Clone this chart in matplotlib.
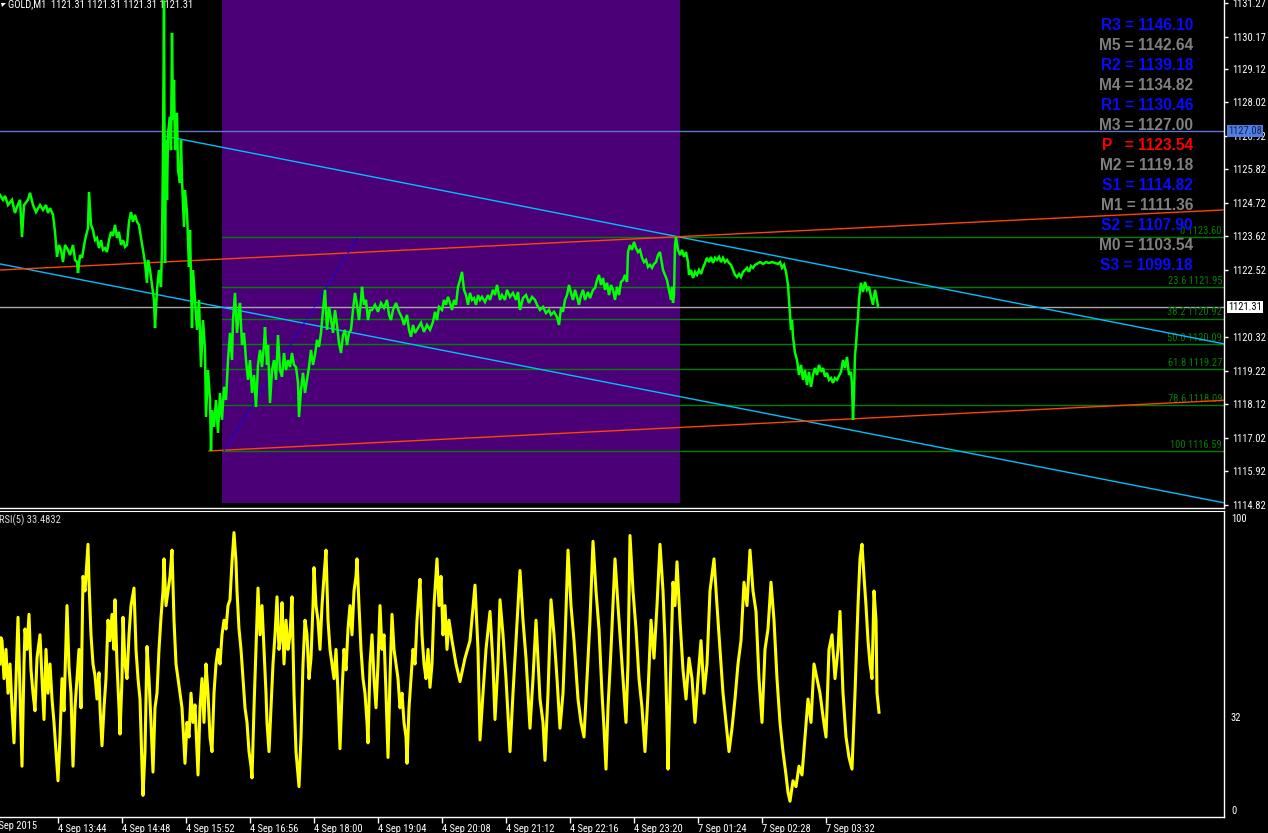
import matplotlib
matplotlib.use('Agg')
import matplotlib.pyplot as plt
import matplotlib.transforms as mtrans
from matplotlib.patches import Rectangle, Polygon
from matplotlib import font_manager

# ---------------- data ----------------
title = "GOLD,M1  1121.31 1121.31 1121.31 1121.31"
last_price = 1121.31
m3_line = 1127.08

price_bar = [0,3,5,8,12,15,17,20,22,24,28,30,33,36,40,43,46,48,50,53,55,57,59,61,63,65,68,70,73,75,77,78,80,82,85,88,89,91,93,95,97,99,101,103,105,107,109,111,113,115,117,119,121,123,125,127,129,131,133,135,137,139,141,143,145,147,148,150,152,154,155,157,159,161,162,163,164,165,166,167,168,170,171,172,173,174,175,177,178,180,181,182,184,185,187,189,190,192,193,195,197,199,201,203,205,206,208,210,211,212,214,216,218,220,222,224,226,228,230,232,233,235,237,239,240,242,244,246,248,250,252,254,256,258,260,262,264,265,267,268,270,272,274,276,278,280,282,284,286,288,290,292,294,296,298,299,301,303,305,307,309,311,313,315,317,319,321,323,325,327,329,331,333,335,337,339,341,343,345,347,349,351,353,355,357,359,361,362,364,366,368,370,372,375,378,381,384,387,389,391,393,396,399,402,404,407,409,411,413,415,418,421,424,427,430,433,435,437,439,442,444,446,448,450,452,454,456,458,460,462,464,466,468,470,472,474,476,478,480,482,485,488,490,493,495,497,500,502,505,507,510,513,516,518,520,523,526,529,532,535,537,540,543,546,549,551,554,557,559,561,563,565,567,569,571,573,575,577,579,581,583,585,588,590,593,595,597,599,601,603,605,607,609,611,613,615,617,619,621,623,625,627,628,630,632,634,636,638,640,642,644,646,648,650,652,654,656,658,660,661,663,665,667,669,671,672,673,674,675,676,678,680,682,684,686,688,689,691,693,695,697,699,701,703,705,707,709,711,713,715,717,719,721,723,725,727,729,731,733,735,737,739,741,743,745,747,749,751,753,755,757,760,763,766,769,772,775,778,780,782,784,786,788,789,790,791,792,793,794,795,797,799,801,803,805,807,809,811,813,815,817,819,821,823,825,827,829,831,833,835,837,839,841,843,845,847,849,851,852,853,854,855,856,857,858,859,860,861,863,865,867,869,871,873,875,877,878]
price_val = [1124.98,1124.82,1124.95,1124.65,1124.82,1124.39,1124.59,1124.82,1123.60,1124.65,1124.82,1125.05,1124.65,1124.42,1124.65,1124.49,1124.65,1124.39,1124.55,1124.33,1123.77,1122.95,1123.34,1123.18,1122.78,1123.34,1123.18,1123.01,1123.34,1122.85,1122.78,1122.42,1123.01,1122.92,1123.50,1123.90,1125.08,1124.00,1123.83,1123.50,1123.57,1123.24,1123.50,1123.18,1123.24,1123.11,1123.50,1123.77,1123.64,1124.00,1123.57,1123.77,1123.34,1123.50,1123.28,1123.34,1124.10,1124.42,1124.10,1124.33,1124.10,1124.00,1123.57,1123.18,1122.75,1122.10,1122.85,1122.52,1122.03,1121.54,1120.62,1121.87,1122.52,1121.97,1123.28,1126.45,1131.35,1122.75,1126.78,1124.82,1127.01,1127.54,1126.45,1130.29,1127.44,1128.75,1126.45,1127.67,1125.80,1125.37,1126.78,1125.47,1123.93,1125.14,1124.39,1122.62,1123.83,1120.62,1122.52,1121.54,1120.56,1121.54,1119.34,1120.88,1119.90,1117.70,1119.24,1118.26,1116.59,1117.93,1117.38,1118.26,1117.18,1118.49,1117.61,1118.69,1118.26,1119.57,1120.46,1119.57,1120.88,1121.77,1120.46,1121.21,1121.44,1120.06,1120.46,1119.57,1118.92,1119.57,1118.49,1119.08,1118.03,1119.41,1119.90,1119.34,1120.06,1120.65,1119.41,1120.06,1118.16,1119.24,1119.57,1118.92,1120.39,1119.24,1119.02,1119.80,1119.24,1119.57,1119.34,1119.80,1119.41,1119.34,1118.82,1117.70,1118.59,1119.15,1118.49,1118.92,1119.34,1119.90,1119.41,1119.74,1120.23,1120.00,1120.46,1121.21,1121.87,1120.56,1121.31,1120.88,1120.46,1121.21,1120.72,1120.13,1119.80,1120.39,1120.56,1120.06,1120.46,1120.56,1121.21,1121.77,1121.38,1120.88,1121.54,1121.97,1121.38,1121.54,1120.88,1121.21,1121.21,1121.38,1121.15,1121.44,1121.28,1121.54,1121.05,1120.88,1121.21,1121.44,1121.15,1120.95,1120.72,1121.05,1120.56,1120.33,1120.72,1120.46,1120.62,1120.79,1120.49,1120.72,1120.56,1120.82,1121.15,1120.88,1121.31,1121.21,1121.54,1121.38,1121.64,1121.44,1121.21,1121.54,1121.38,1121.97,1122.19,1122.46,1121.87,1121.70,1121.38,1121.77,1121.54,1121.60,1121.38,1121.70,1121.54,1121.64,1121.47,1121.70,1121.54,1121.87,1121.70,1122.03,1121.54,1121.70,1121.54,1121.87,1121.64,1121.77,1121.54,1121.80,1121.21,1121.60,1121.70,1121.44,1121.64,1121.54,1121.38,1121.21,1121.31,1121.11,1121.21,1121.05,1121.15,1120.98,1120.72,1121.28,1121.15,1121.54,1121.70,1122.03,1121.77,1121.54,1121.87,1121.64,1121.38,1121.70,1121.87,1121.54,1121.80,1121.60,1121.87,1121.93,1122.19,1122.36,1122.03,1122.26,1121.87,1122.10,1121.70,1122.03,1121.87,1121.54,1121.97,1121.70,1122.13,1122.19,1122.36,1122.13,1123.11,1123.34,1123.18,1123.44,1123.24,1123.11,1123.18,1122.92,1122.78,1122.85,1122.62,1122.69,1122.59,1122.72,1122.78,1123.01,1123.11,1122.92,1122.52,1122.36,1122.19,1121.87,1121.54,1121.97,1121.44,1121.70,1123.34,1123.60,1123.18,1123.01,1123.18,1122.95,1123.11,1122.78,1122.36,1122.52,1122.26,1122.46,1122.36,1122.52,1122.39,1122.59,1122.75,1122.92,1122.78,1122.95,1122.75,1122.92,1122.85,1122.95,1122.78,1122.92,1122.78,1122.85,1122.75,1122.69,1122.52,1122.36,1122.29,1122.39,1122.29,1122.46,1122.52,1122.59,1122.46,1122.65,1122.59,1122.69,1122.72,1122.78,1122.72,1122.78,1122.75,1122.78,1122.75,1122.72,1122.78,1122.59,1122.69,1122.46,1122.03,1121.54,1121.05,1120.56,1120.88,1120.33,1120.06,1119.80,1119.57,1119.08,1119.41,1118.92,1119.24,1118.75,1119.18,1118.69,1119.08,1119.31,1119.08,1119.41,1119.18,1119.31,1119.02,1119.15,1118.92,1118.98,1118.82,1118.98,1118.92,1119.05,1119.18,1119.57,1119.31,1119.67,1119.08,1119.18,1118.75,1117.61,1118.43,1119.74,1120.06,1120.56,1120.95,1121.54,1121.87,1122.10,1121.80,1122.13,1121.87,1121.97,1121.64,1121.38,1121.87,1121.54,1121.31]

rsi_bar = [0,1,2,4,6,8,10,12,14,16,18,20,22,24,25,27,29,31,33,35,37,40,42,44,46,48,50,52,54,56,58,60,62,64,67,69,71,73,75,77,79,81,83,85,88,89,91,93,95,97,99,100,102,104,106,108,110,112,114,115,117,119,120,122,123,125,127,129,131,134,136,138,140,142,143,145,147,149,151,153,155,157,159,161,163,164,166,168,170,172,174,176,178,180,182,184,185,187,189,191,193,195,197,198,200,202,204,206,208,210,212,214,216,218,220,222,224,226,228,230,232,234,236,237,239,241,243,245,247,249,251,252,254,256,258,260,262,264,266,267,269,271,273,275,277,279,281,282,284,286,288,290,292,294,296,298,299,301,303,305,307,309,311,313,314,316,318,320,322,324,326,328,330,332,334,336,338,340,342,344,346,348,350,352,354,356,357,359,361,363,365,367,368,370,372,374,376,378,380,382,384,386,388,390,392,394,396,398,400,402,404,406,407,409,411,413,415,417,419,420,422,424,426,428,430,432,434,437,439,441,443,445,447,449,452,456,460,465,470,475,478,480,483,486,490,493,495,498,500,503,506,510,513,516,520,523,526,530,533,536,540,543,545,548,551,554,557,560,563,565,568,571,574,578,581,584,587,590,593,596,599,602,604,606,608,611,615,618,621,624,626,628,630,633,636,639,642,645,648,651,654,657,660,663,665,667,668,670,673,675,677,680,683,686,689,692,695,698,701,704,707,710,714,717,720,723,726,729,732,735,738,741,744,747,750,753,756,759,762,765,768,771,774,777,780,783,786,788,790,793,796,799,802,805,808,811,814,817,820,823,826,829,832,835,838,840,843,846,849,852,855,858,860,862,864,866,868,870,872,874,876,877,879]
rsi_val = [50,59,58,45,55,40,50,35,23,45,66,40,15,50,62,55,67,48,40,34,52,60,45,31,55,40,50,38,30,20,10,25,45,34,70,49,40,15,35,45,55,35,80,75,91,78,60,50,46,38,47,35,22,35,45,65,58,67,55,72,50,35,26,45,66,50,45,60,70,76,55,45,38,15,5,20,56,45,30,13,35,40,55,66,75,86,70,75,80,89,65,50,45,40,35,22,16,30,25,40,30,36,20,12,35,45,30,50,40,25,20,40,50,55,50,60,65,62,70,72,85,95,85,75,62,55,45,35,30,20,15,11,35,55,76,60,70,55,40,30,20,35,50,60,73,55,60,71,50,65,55,60,73,40,20,12,8,25,50,65,60,45,52,70,83,70,65,55,70,80,89,65,55,50,45,55,40,21,40,55,48,62,70,60,75,80,86,70,55,45,40,30,23,50,60,45,35,50,70,55,60,40,18,45,67,55,50,45,35,40,30,25,16,35,45,55,50,65,75,79,60,50,45,55,42,50,70,86,70,80,60,70,55,65,58,50,44,52,58,77,55,24,40,55,68,50,31,50,72,60,45,20,40,58,82,65,52,28,45,65,38,30,17,40,72,60,45,28,40,58,89,70,58,38,30,25,45,65,92,75,62,40,28,14,35,55,86,70,55,40,30,50,94,75,62,45,35,20,40,65,52,70,91,75,58,30,14,40,78,70,85,65,48,38,52,45,30,45,58,40,50,75,86,70,55,40,30,20,28,38,50,58,78,70,89,75,68,45,30,55,62,78,65,45,30,20,12,6,3,10,8,15,12,25,38,30,50,45,40,32,25,55,60,45,55,68,40,25,18,14,40,70,86,91,80,70,58,50,45,75,65,40,33.48]
rsi_label = "RSI(5) 33.4832"

pivot_names = ["R3", "M5", "R2", "M4", "R1", "M3", "P  ", "M2", "S1", "M1", "S2", "M0", "S3"]
pivot_vals = [1146.10, 1142.64, 1139.18, 1134.82, 1130.46, 1127.00, 1123.54, 1119.18, 1114.82, 1111.36, 1107.90, 1103.54, 1099.18]
pivot_kind = ["R", "M", "R", "M", "R", "M", "P", "M", "S", "M", "S", "M", "S"]

fib_levels = ["0", "23.6", "38.2", "50.0", "61.8", "78.6", "100", "127.2"]
fib_prices = [1123.60, 1121.95, 1120.92, 1120.09, 1119.27, 1118.09, 1116.59, 1114.68]
fib_start = 222

price_ticks = [1131.27, 1130.17, 1129.12, 1128.02, 1126.92, 1125.82, 1124.72, 1123.62,
               1122.52, 1120.32, 1119.22, 1118.12, 1117.02, 1115.92, 1114.82]
rsi_ticks = [100, 32, 0]
time_ticks = [58, 122, 186, 250, 314, 378, 442, 506, 570, 634, 698, 762, 826]
time_labels = ["4 Sep 13:44", "4 Sep 14:48", "4 Sep 15:52", "4 Sep 16:56", "4 Sep 18:00",
               "4 Sep 19:04", "4 Sep 20:08", "4 Sep 21:12", "4 Sep 22:16", "4 Sep 23:20",
               "7 Sep 01:24", "7 Sep 02:28", "7 Sep 03:32"]
first_label = "4 Sep 2015"

# trend objects (bar, price)
cyan_upper = ([165, 1224], [1126.91, 1120.10])
cyan_lower = ([0, 1224], [1122.72, 1114.89])
red_upper = ([0, 1224], [1122.52, 1124.49])
red_lower = ([209, 1224], [1116.59, 1118.25])
fib_trend = ([224, 358], [1116.59, 1123.60])
rect_x = (222, 680)
rect_low = 1114.88

# ---------------- fonts ----------------
def has_font(name):
    try:
        font_manager.findfont(font_manager.FontProperties(family=name), fallback_to_default=False)
        return True
    except Exception:
        return False

SMALL_FAM = ['Liberation Sans', 'DejaVu Sans']
SMALL = 7.0
for cand in ['Liberation Sans Narrow', 'DejaVu Sans Condensed', 'Roboto Condensed']:
    if has_font(cand):
        SMALL_FAM = [cand, 'DejaVu Sans']
        SMALL = 7.6
        break

# ---------------- figure ----------------
W, H = 1268, 833
plt.rcParams['font.family'] = SMALL_FAM
fig = plt.figure(figsize=(W / 100, H / 100), dpi=100, facecolor='black')

def fx(px):
    return px / W

def fy(py):
    return 1 - py / H

ax = fig.add_axes([0, fy(508), fx(1224), (508) / H])
axr = fig.add_axes([0, fy(817), fx(1224), (817 - 511) / H])

for a in (ax, axr):
    a.set_facecolor('black')
    a.set_xlim(0, 1224)
    for s in ('left', 'top'):
        a.spines[s].set_visible(False)
    for s in ('right', 'bottom'):
        a.spines[s].set_color('white')
        a.spines[s].set_linewidth(1)
    a.yaxis.tick_right()
    a.tick_params(axis='y', colors='white', length=3, width=1, labelsize=SMALL, pad=3)

axr.spines['top'].set_visible(True)
axr.spines['top'].set_color('white')

ax.set_ylim(1114.72, 1131.37)
axr.set_ylim(-2.4, 102.4)

# purple rectangle
ax.add_patch(Rectangle((rect_x[0], rect_low), rect_x[1] - rect_x[0], 40,
                       facecolor='#4b0078', edgecolor='none', zorder=0))

# horizontal lines
ax.axhline(m3_line, color='#5a78d0', lw=1, zorder=1)
ax.axhline(last_price, color='#a8a8a8', lw=1, zorder=1)

# fib levels
for lvl, p in zip(fib_levels, fib_prices):
    ax.plot([fib_start, 1224], [p, p], color='#008000', lw=1, zorder=2)
    ax.annotate(f"{lvl} {p:.2f}", xy=(1222, p), xytext=(0, 1.0), textcoords='offset points',
                ha='right', va='bottom', color='#008000', fontsize=SMALL, zorder=3)

# trend lines
ax.plot(*cyan_upper, color='#00bfff', lw=1, zorder=3)
ax.plot(*cyan_lower, color='#00bfff', lw=1, zorder=3)
ax.plot(*red_upper, color='#ff4500', lw=1, zorder=3)
ax.plot(*red_lower, color='#ff4500', lw=1, zorder=3)
ax.plot(*fib_trend, color='#0000ff', lw=1, ls=(0, (1, 1)), zorder=3)

# price
ax.plot(price_bar, price_val, color='#00ff00', lw=1.8, zorder=4, solid_joinstyle='miter')

# price axis ticks
ax.set_yticks(price_ticks)
ax.set_yticklabels([f"{t:.2f}" for t in price_ticks])
ax.set_xticks([])

blend = mtrans.blended_transform_factory(ax.transAxes, ax.transData)
ax.text(1.0 + 4 / 1224, m3_line, f"{m3_line:.2f}", transform=blend, ha='left', va='center',
        fontsize=SMALL, color='#10205a',
        bbox=dict(facecolor='#4f7de0', edgecolor='none', pad=1.0), zorder=10, clip_on=False)
ax.text(1.0 + 4 / 1224, last_price, f"{last_price:.2f}", transform=blend, ha='left', va='center',
        fontsize=SMALL, color='black',
        bbox=dict(facecolor='white', edgecolor='none', pad=1.0), zorder=10, clip_on=False)

# pivot text
colors = {"R": '#0a0aff', "S": '#0a0aff', "M": '#808080', "P": '#ff0000'}
for i, (n, v, k) in enumerate(zip(pivot_names, pivot_vals, pivot_kind)):
    fig.text(fx(1193), fy(25.5 + 20 * i), f"{n} = {v:.2f}", ha='right', va='center',
             fontsize=11.2, fontweight='bold', color=colors[k], family=['Liberation Sans', 'DejaVu Sans'])

# RSI
axr.plot(rsi_bar, rsi_val, color='#ffff00', lw=2.2, zorder=3)
axr.set_yticks(rsi_ticks)
axr.set_yticklabels([str(t) for t in rsi_ticks])
axr.tick_params(axis='y', length=0, pad=5)
axr.set_xticks(time_ticks)
axr.set_xticklabels(time_labels)
axr.tick_params(axis='x', colors='white', length=4, width=1, labelsize=SMALL, pad=1.0)
for lab in axr.get_xticklabels():
    lab.set_ha('left')
    lab.set_color('white')

fig.text(fx(-9), fy(826), first_label, ha='left', va='center', fontsize=SMALL, color='white')

# title and RSI label
fig.text(fx(8), fy(4.5), title, ha='left', va='center', fontsize=SMALL, color='white')
fig.patches.append(Polygon([[fx(1), fy(3)], [fx(6), fy(3)], [fx(2), fy(7)]], closed=True,
                           transform=fig.transFigure, facecolor='white', edgecolor='none'))
fig.text(fx(-1), fy(520.5), rsi_label, ha='left', va='center', fontsize=SMALL, color='#e0e0e0')

fig.savefig('out.png', dpi=100, facecolor='black')
